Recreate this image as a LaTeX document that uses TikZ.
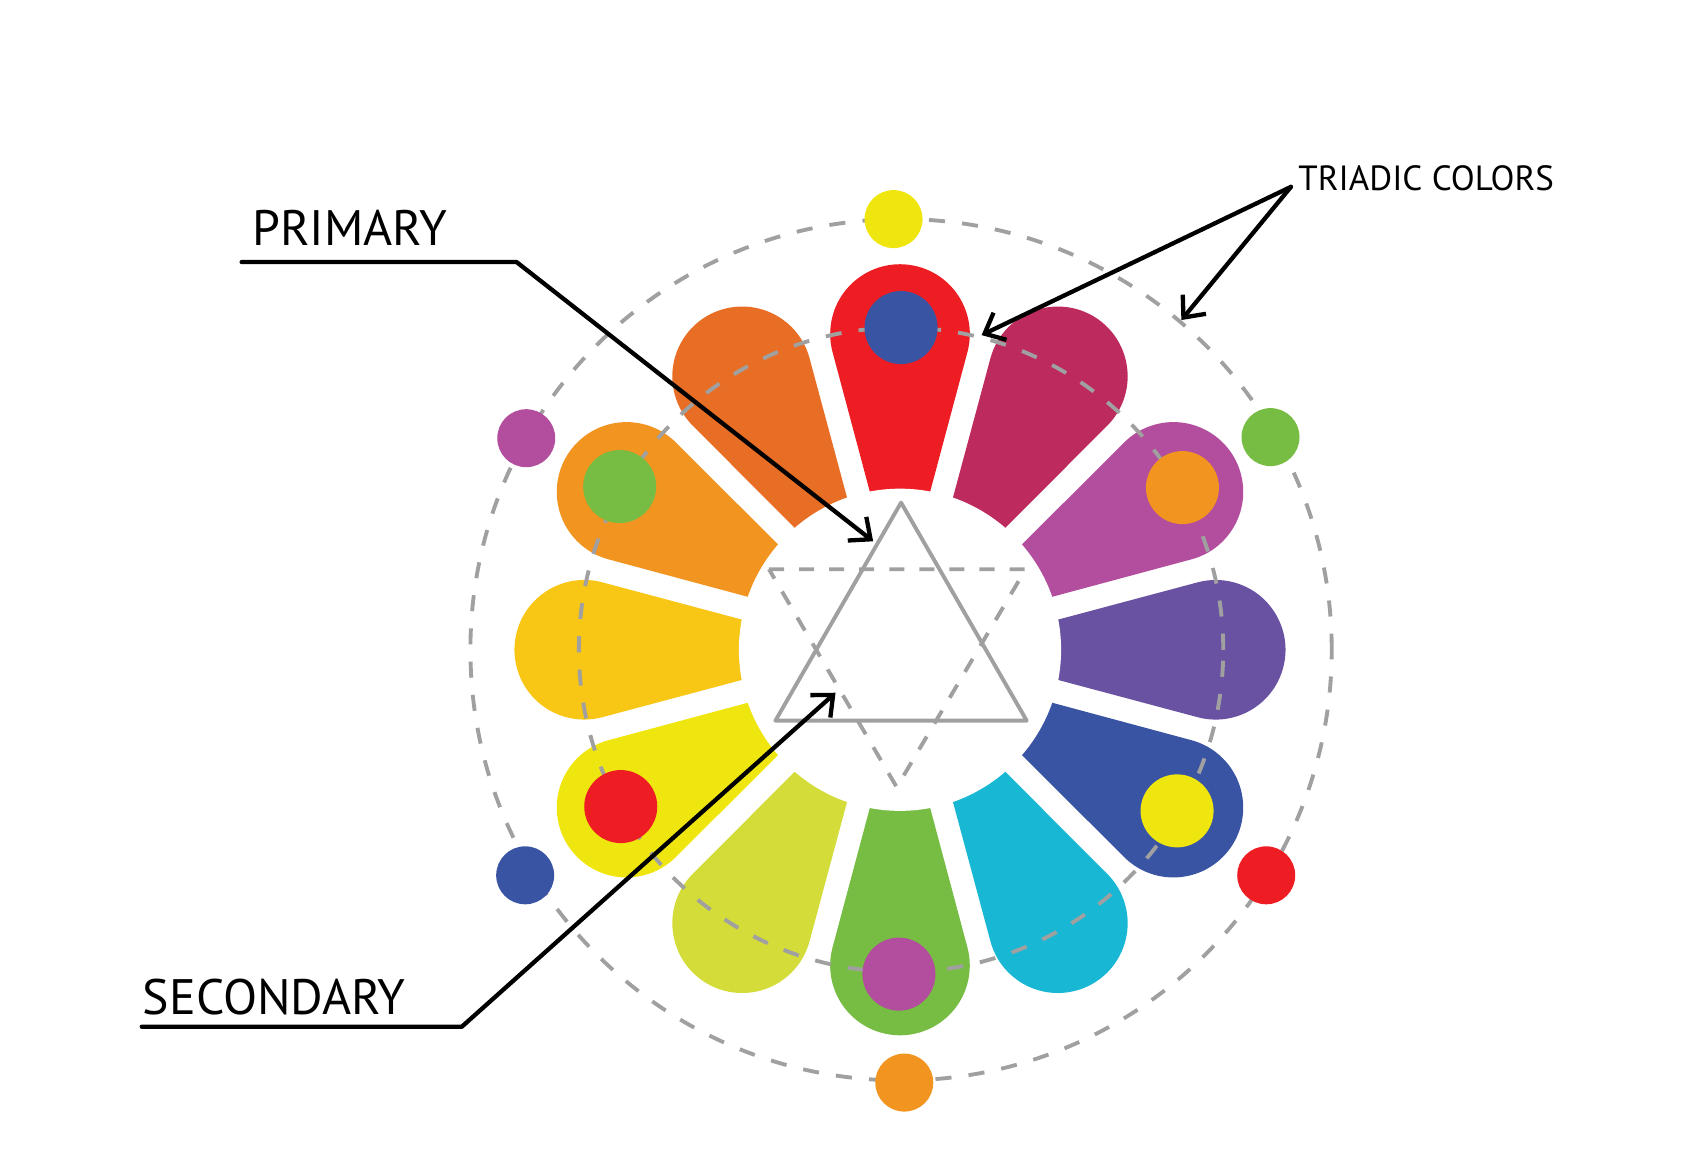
\documentclass[tikz,border=0pt]{standalone}
\usepackage{fontspec}
\setmainfont{PT Sans}
\usepackage{tikz}
\usetikzlibrary{arrows.meta}

\definecolor{cred}{HTML}{EE1D24}
\definecolor{ccrimson}{HTML}{BC2A5E}
\definecolor{cmagenta}{HTML}{B24E9D}
\definecolor{cviolet}{HTML}{6A52A2}
\definecolor{cblue}{HTML}{3A54A4}
\definecolor{ccyan}{HTML}{18B8D5}
\definecolor{cgreen}{HTML}{77BD43}
\definecolor{clime}{HTML}{D3DC38}
\definecolor{cyellow}{HTML}{F0E60F}
\definecolor{cgold}{HTML}{F8C615}
\definecolor{corange}{HTML}{F29420}
\definecolor{cvermilion}{HTML}{E86E25}
\definecolor{cgray}{HTML}{A0A0A0}

\begin{document}
\begin{tikzpicture}[
        x = 0.5pt, y = 0.5pt,
        petal/.pic = {\fill[#1] (42,0) -- (277.2,-62.8) arc[start angle=-104.95, end angle=104.95, radius=65] -- cycle;},
        guide/.style = {draw=cgray, line width=1.8pt, dash pattern=on 7.5pt off 8pt},
        tri/.style = {draw=cgray, line width=1.8pt, line join=round},
        dot/.style = {circle, fill=#1, inner sep=0pt, outer sep=0pt, minimum size=34pt},
        outdot/.style = {circle, fill=#1, inner sep=0pt, outer sep=0pt, minimum size=27pt},
        pointer/.style = {draw=black, line width=2pt, line cap=round, line join=round, -{Straight Barb[length=8pt, width=14pt]}},
        tag/.style = {inner sep=0pt, outer sep=0pt, anchor=base west, font=\fontsize{23.2}{27}\selectfont},
        smalltag/.style = {tag, font=\fontsize{16.3}{20}\selectfont}
    ]
    \useasboundingbox (-838,-479) rectangle (730,605);
%
    \pic[rotate=90]   {petal=cred};
    \pic[rotate=60]   {petal=ccrimson};
    \pic[rotate=30]   {petal=cmagenta};
    \pic[rotate=0]    {petal=cviolet};
    \pic[rotate=-30]  {petal=cblue};
    \pic[rotate=-60]  {petal=ccyan};
    \pic[rotate=-90]  {petal=cgreen};
    \pic[rotate=-120] {petal=clime};
    \pic[rotate=-150] {petal=cyellow};
    \pic[rotate=180]  {petal=cgold};
    \pic[rotate=150]  {petal=corange};
    \pic[rotate=120]  {petal=cvermilion};
    \fill[white] (0,0) circle[radius=150];
%
    \draw[guide] (1,0) circle[radius=300];
    \draw[guide] (1,0) circle[radius=401];
%
    \node[dot=cblue]   (in1) at (1,300)     {};
    \node[dot=corange] (in2) at (263,151)   {};
    \node[dot=cyellow] (in3) at (258,-150)  {};
    \node[dot=cmagenta](in4) at (-1,-302)   {};
    \node[dot=cred]    (in5) at (-260,-146) {};
    \node[dot=cgreen]  (in6) at (-261,152)  {};
%
    \node[outdot=cyellow]  (out1) at (-6,401)    {};
    \node[outdot=cgreen]   (out2) at (345,198)   {};
    \node[outdot=cred]     (out3) at (341,-210)  {};
    \node[outdot=corange]  (out4) at (4,-403)    {};
    \node[outdot=cblue]    (out5) at (-349,-210) {};
    \node[outdot=cmagenta] (out6) at (-348,197)  {};
%
    \coordinate (a1) at (1,137);
    \coordinate (a2) at (-116,-66);
    \coordinate (a3) at (118,-66);
    \draw[tri] (a1) -- (a2) -- (a3) -- cycle;
    \coordinate (b1) at (-122,75);
    \coordinate (b2) at (117,75);
    \coordinate (b3) at (-3,-128);
    \draw[tri, dash pattern=on 7pt off 7pt] (b1) -- (b2) -- (b3) -- cycle;
%
    \node[tag] (primary) at (-603,376) {PRIMARY};
    \coordinate (pstart) at (-613,361);
    \coordinate (pbend)  at (-357,361);
    \coordinate (ptip)   at (-25,101);
    \draw[pointer] (pstart) -- (pbend) -- (ptip);
%
    \node[tag] (secondary) at (-705,-340) {SECONDARY};
    \coordinate (sstart) at (-706,-351);
    \coordinate (sbend)  at (-408,-351);
    \coordinate (stip)   at (-60,-40);
    \draw[pointer] (sstart) -- (sbend) -- (stip);
%
    \node[smalltag] (triadic) at (371,428) {TRIADIC COLORS};
    \coordinate (tstart) at (364,431);
    \coordinate (ttip1)  at (76,293);
    \coordinate (ttip2)  at (262,307);
    \draw[pointer] (tstart) -- (ttip1);
    \draw[pointer] (tstart) -- (ttip2);
\end{tikzpicture}
\end{document}
